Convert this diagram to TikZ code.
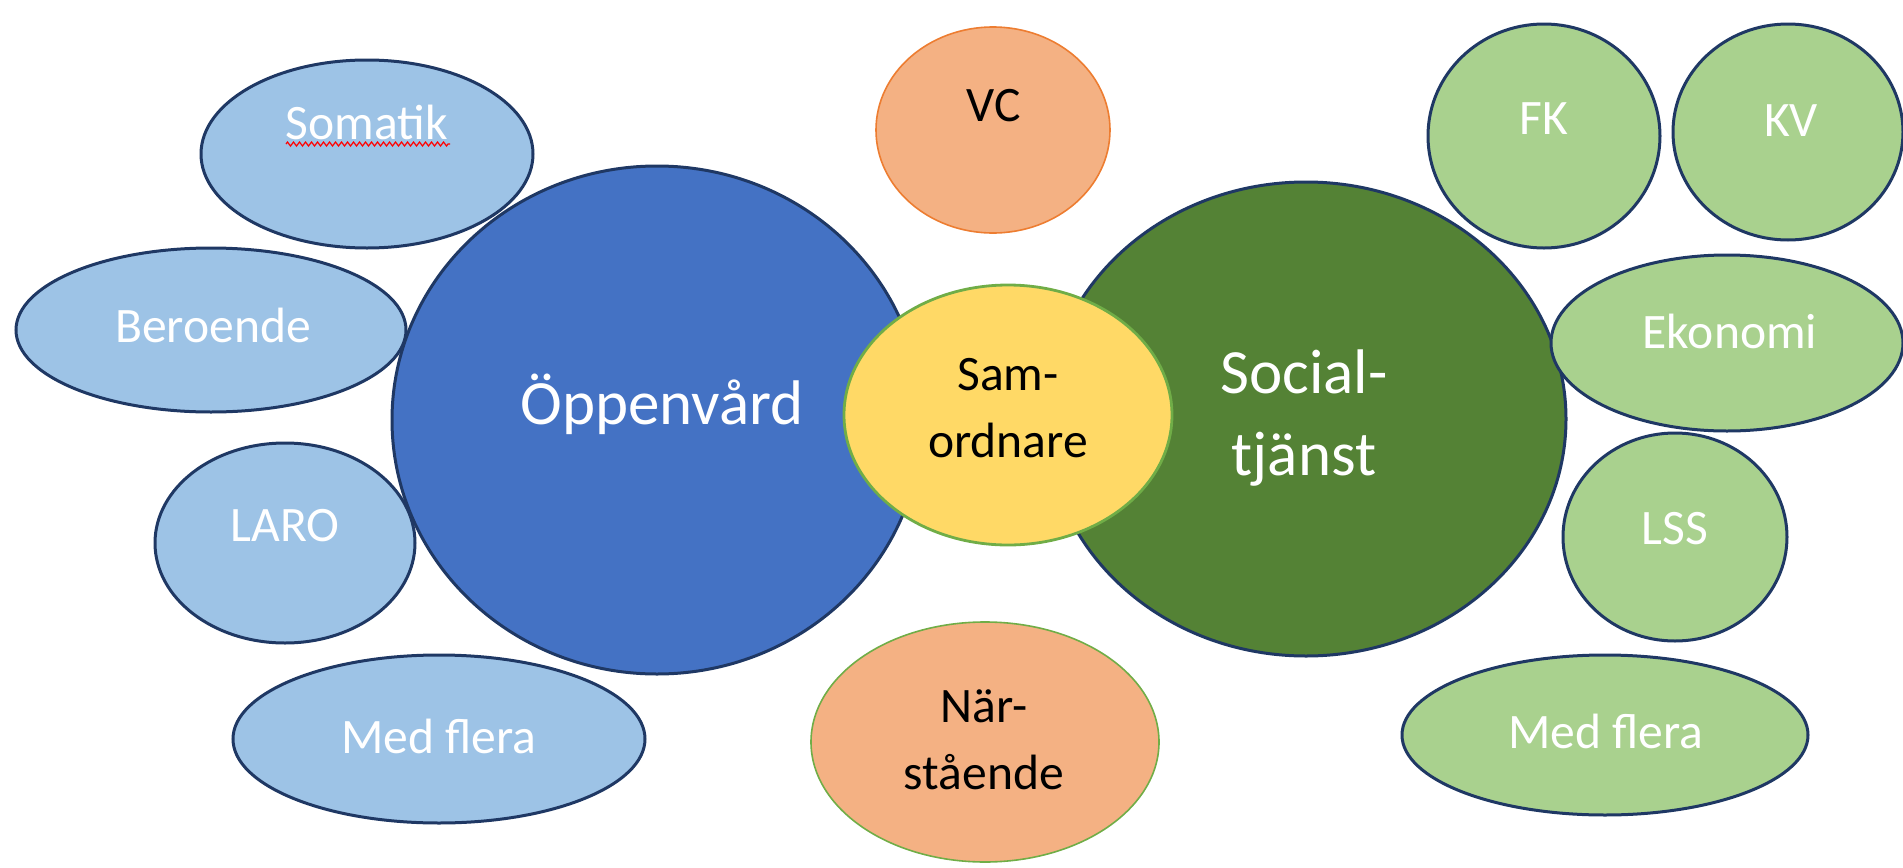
\documentclass[tikz,border=0pt]{standalone}
\usepackage{fontspec}
\setmainfont{Carlito}
\usetikzlibrary{shapes.geometric,decorations.pathmorphing}
\definecolor{navy}{HTML}{1F3864}
\definecolor{lblue}{HTML}{9DC3E6}
\definecolor{mblue}{HTML}{4472C4}
\definecolor{peach}{HTML}{F4B183}
\definecolor{orangeb}{HTML}{ED7D31}
\definecolor{gold}{HTML}{FFD966}
\definecolor{greenb}{HTML}{70AD47}
\definecolor{dgreen}{HTML}{548235}
\definecolor{lgreen}{HTML}{A9D18E}
\tikzset{
  blob/.style={ellipse, inner sep=0pt, outer sep=0pt},
  bluesat/.style={blob, fill=lblue, draw=navy, line width=1.5pt},
  greensat/.style={blob, fill=lgreen, draw=navy, line width=1.5pt},
  bigblue/.style={blob, fill=mblue, draw=navy, line width=1.5pt},
  biggreen/.style={blob, fill=dgreen, draw=navy, line width=1.5pt},
  peachorange/.style={blob, fill=peach, draw=orangeb, line width=0.8pt},
  peachgreen/.style={blob, fill=peach, draw=greenb, line width=0.8pt},
  coord/.style={blob, fill=gold, draw=greenb, line width=1.4pt},
  wtxt/.style={text=white, font=\fontsize{24.8}{30}\selectfont, align=center, inner sep=0pt},
  btxt/.style={text=black, font=\fontsize{24.8}{33.5}\selectfont, align=center, inner sep=0pt},
  bigtxt/.style={text=white, font=\fontsize{31.5}{41}\selectfont, align=center, inner sep=0pt},
}
\begin{document}
\begin{tikzpicture}[x=0.5pt,y=-0.5pt]
\useasboundingbox (0,0) rectangle (1903,868);
% big circles
\node[bigblue, minimum width=265pt, minimum height=254pt] (opp) at (657,420) {};
\node[biggreen, minimum width=260pt, minimum height=237pt] (soc) at (1306,419) {};
% left satellites
\node[bluesat, minimum width=166pt, minimum height=94pt] (som) at (367,154) {};
\node[bluesat, minimum width=195pt, minimum height=82pt] (ber) at (211,330) {};
\node[bluesat, minimum width=130pt, minimum height=100pt] (laro) at (285,543) {};
\node[bluesat, minimum width=206pt, minimum height=84pt] (medL) at (439,739) {};
% middle
\node[peachorange, minimum width=117pt, minimum height=103pt] (vc) at (993,130) {};
\node[peachgreen, minimum width=174pt, minimum height=120pt] (nar) at (985,742) {};
\node[coord, minimum width=164pt, minimum height=130pt] (sam) at (1008,415) {};
% right satellites
\node[greensat, minimum width=116pt, minimum height=112pt] (fk) at (1544,136) {};
\node[greensat, minimum width=115pt, minimum height=108pt] (kv) at (1788,132) {};
\node[greensat, minimum width=176pt, minimum height=88pt] (eko) at (1727,343) {};
\node[greensat, minimum width=112pt, minimum height=104pt] (lss) at (1675,537) {};
\node[greensat, minimum width=203pt, minimum height=80pt] (medR) at (1605,735) {};
% texts
\node[wtxt] (tsom) at (367,122) {Somatik};
\draw[red, line width=0.6pt, decorate, decoration={zigzag, segment length=3pt, amplitude=1pt}] (286,144) -- (450,144);
\node[wtxt] (tber) at (213,325) {Beroende};
\node[wtxt] (tlaro) at (285,526) {LARO};
\node[wtxt] (tmedL) at (439,736) {Med flera};
\node[bigtxt] (topp) at (662,404) {Öppenvård};
\node[btxt] (tvc) at (994,106) {VC};
\node[btxt] (tsam) at (1008,408) {Sam-\\ordnare};
\node[bigtxt] (tsoc) at (1304,418) {Social-\\tjänst};
\node[btxt] (tnar) at (984,740) {När-\\stående};
\node[wtxt] (tfk) at (1544,119) {FK};
\node[wtxt] (tkv) at (1791,121) {KV};
\node[wtxt] (teko) at (1730,331) {Ekonomi};
\node[wtxt] (tlss) at (1675,529) {LSS};
\node[wtxt] (tmedR) at (1606,731) {Med flera};
\end{tikzpicture}
\end{document}
